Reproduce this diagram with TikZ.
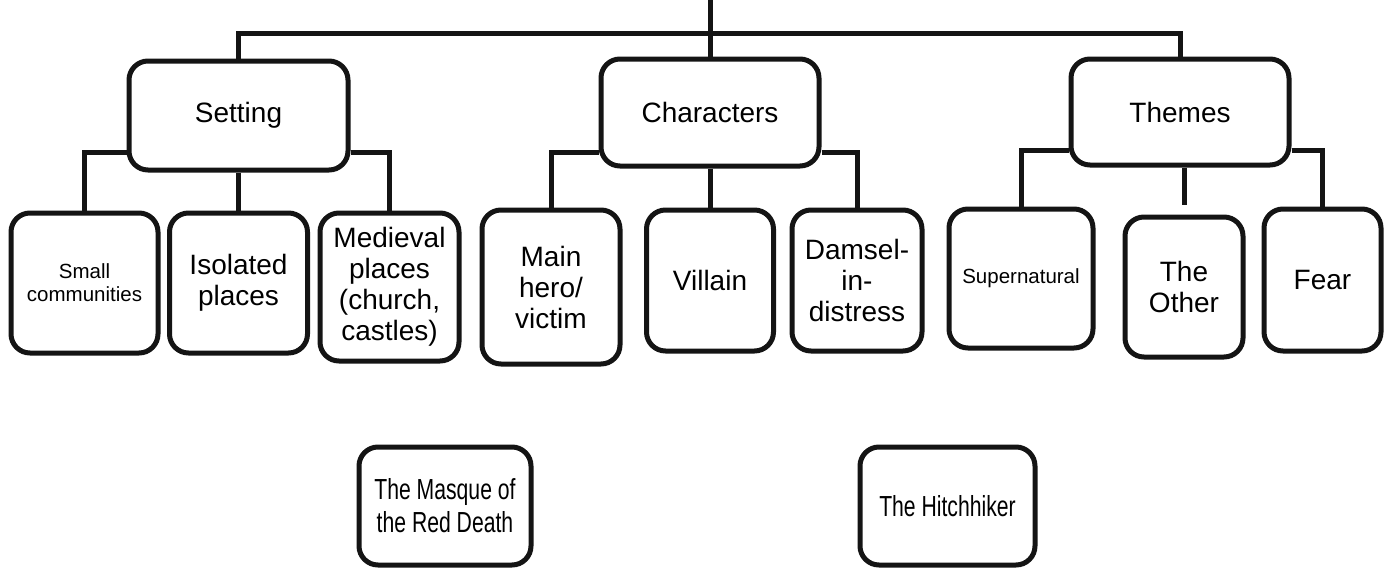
\documentclass[tikz,border=0pt]{standalone}
\usepackage{fontspec}
\setmainfont{Liberation Sans}
\newfontfamily\narrowfont[FakeStretch=0.73]{Liberation Sans}
\begin{document}
\begin{tikzpicture}[x=1pt,y=-1pt,
  box/.style={draw=black!92, line width=5pt, rounded corners=19pt, inner sep=0pt,
    align=center, fill=white, font=\fontsize{28}{31}\selectfont},
  small/.style={font=\fontsize{20.5}{23}\selectfont},
  story/.style={font=\narrowfont\fontsize{29}{33}\selectfont},
  link/.style={draw=black!92, line width=5pt}]
\useasboundingbox (0,0) rectangle (1393,574);

% top level
\node[box, minimum width=219, minimum height=109] (set)  at (238.5,115.5) {Setting};
\node[box, minimum width=218, minimum height=107] (chr)  at (710,112.5) {Characters};
\node[box, minimum width=218, minimum height=106] (them) at (1180,112) {Themes};

% setting
\node[box, small, minimum width=147, minimum height=140] (small) at (84.5,283) {Small\\communities};
\node[box, minimum width=138, minimum height=140] (iso) at (238.5,283) {Isolated\\places};
\node[box, minimum width=139, minimum height=148] (med) at (389.5,287) {Medieval\\places\\(church,\\castles)};

% characters
\node[box, minimum width=138, minimum height=154] (hero) at (551,287) {Main\\hero/\\victim};
\node[box, minimum width=127, minimum height=141] (vil)  at (710,280.5) {Villain};
\node[box, minimum width=130, minimum height=141] (dam)  at (857,280.5) {Damsel-\\in-\\distress};

% themes
\node[box, small, minimum width=144, minimum height=139] (sup) at (1021,278.5) {Supernatural};
\node[box, minimum width=118, minimum height=140] (other) at (1184,287) {The\\Other};
\node[box, minimum width=117, minimum height=142] (fear) at (1322.5,280) {Fear};

% stories
\node[box, story, minimum width=172, minimum height=118] (masque) at (445,506) {The Masque of\\the Red Death};
\node[box, story, minimum width=175, minimum height=118] (hitch)  at (947.5,506) {The Hitchhiker};

% trunk
\coordinate (top) at (710,0);
\coordinate (hub) at (710,33);
\draw[link] (top) -- (chr.north);
\draw[link] (set.north) |- (hub) -| (them.north);

% setting branches
\draw[link] ([yshift=-37pt]set.west) -| (small.north);
\draw[link] ([yshift=-37pt]set.east) -| (med.north);
\draw[link] (set.south) -- (iso.north);

% character branches
\draw[link] ([yshift=-39.5pt]chr.west) -| (hero.north);
\draw[link] ([yshift=-39.5pt]chr.east) -| (dam.north);
\draw[link] (chr.south) -- (vil.north);

% theme branches
\draw[link] ([yshift=-38pt]them.west) -| (sup.north);
\draw[link] ([yshift=-38pt]them.east) -| (fear.north);
\draw[link] (other.north |- them.south) -- ([yshift=10pt]other.north);
\end{tikzpicture}
\end{document}
